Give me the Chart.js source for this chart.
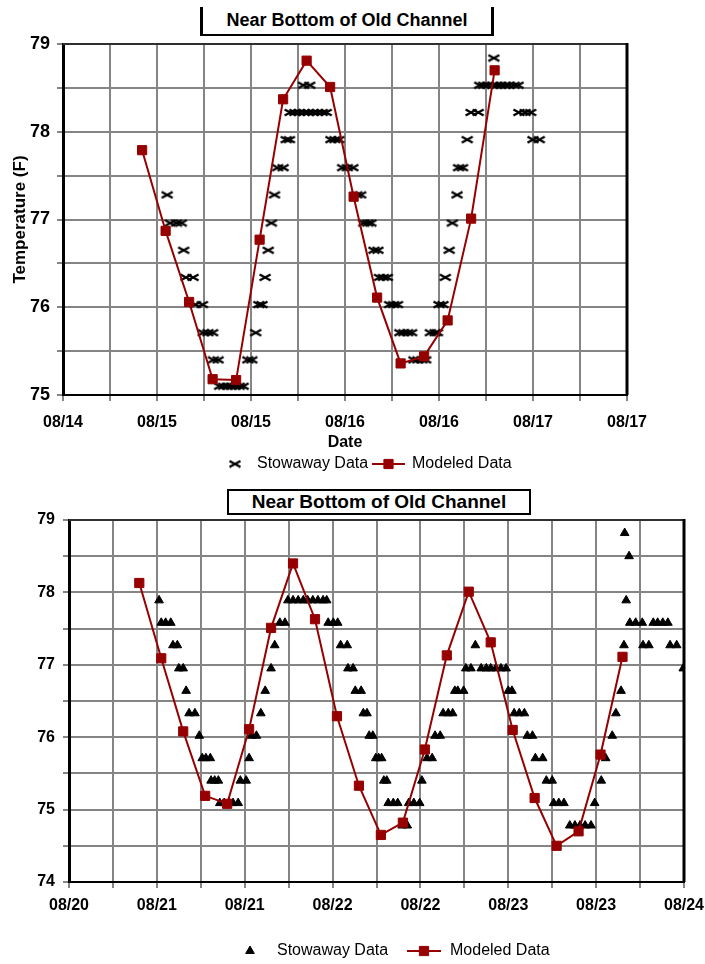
<!DOCTYPE html>
<html>
<head>
<meta charset="utf-8">
<title>Near Bottom of Old Channel</title>
<script src="https://cdn.jsdelivr.net/npm/chart.js@4.4.1/dist/chart.umd.min.js"></script>
<style>
    html, body { margin: 0; padding: 0; background: #fff; }
    body { width: 705px; height: 964px; position: relative; overflow: hidden;
           font-family: "Liberation Sans", Arial, sans-serif; }
    canvas { position: absolute; left: 0; }
    #topCanvas { top: 0; }
    #bottomCanvas { top: 480px; }
    .chart-title { position: absolute; box-sizing: border-box; background: #fff; color: #000;
                   font-weight: bold; text-align: center; white-space: nowrap; z-index: 2; }
    #topTitle { left: 200px; top: 7px; width: 294px; height: 29px; font-size: 18px; line-height: 27px;
                border: 3px solid #000; border-top: none; border-bottom-width: 2px; }
    #bottomTitle { left: 227px; top: 489px; width: 304px; height: 26px; font-size: 19px; line-height: 22px;
                   border: 2px solid #000; }
</style>
</head>
<body>
<div id="topTitle" class="chart-title">Near Bottom of Old Channel</div>
<div id="bottomTitle" class="chart-title">Near Bottom of Old Channel</div>
<canvas id="topCanvas" width="705" height="480"></canvas>
<canvas id="bottomCanvas" width="705" height="484"></canvas>

<script>
// ---- Top chart data (x = hours from the first axis label) ----
const topDateLabels = ['08/14', '08/15', '08/15', '08/16', '08/16', '08/17', '08/17'];
const topModeledHours = [10.1, 13.1, 16.1, 19.1, 22.1, 25.1, 28.1, 31.1, 34.1, 37.1, 40.1, 43.1, 46.1, 49.1, 52.1, 55.1];
const topModeledTemps = [77.79, 76.87, 76.06, 75.18, 75.17, 76.77, 78.37, 78.81, 78.51, 77.26, 76.11, 75.36, 75.44, 75.85, 77.01, 78.70];
// [hour, temperature]
const topStowaway = [
    [13.3, 77.28], [13.7, 76.96], [14.5, 76.96], [15.1, 76.96], [15.4, 76.65], [15.7, 76.34], [16.6, 76.34],
    [16.9, 76.03], [17.8, 76.03], [17.9, 75.71], [18.5, 75.71], [19.1, 75.71], [19.2, 75.40], [19.8, 75.40],
    [20.0, 75.10], [20.5, 75.10], [21.0, 75.10], [21.5, 75.10], [22.0, 75.10], [22.5, 75.10], [23.0, 75.10],
    [23.6, 75.40], [24.1, 75.40], [24.6, 75.71], [25.0, 76.03], [25.4, 76.03], [25.8, 76.34], [26.2, 76.65],
    [26.6, 76.96], [27.0, 77.28], [27.4, 77.59], [28.1, 77.59], [28.5, 77.91], [28.9, 77.91],
    [29.0, 78.22], [29.6, 78.22], [30.2, 78.22], [30.7, 78.53], [30.8, 78.22], [31.3, 78.22], [31.5, 78.53],
    [31.9, 78.22], [32.5, 78.22], [33.1, 78.22], [33.6, 78.22],
    [34.2, 77.91], [34.7, 77.91], [35.2, 77.91], [35.7, 77.59], [36.3, 77.59], [37.0, 77.59],
    [37.5, 77.28], [38.0, 77.28], [38.4, 76.96], [38.9, 76.96], [39.3, 76.96], [39.7, 76.65], [40.2, 76.65],
    [40.4, 76.34], [40.9, 76.34], [41.4, 76.34], [41.7, 76.03], [42.2, 76.03], [42.7, 76.03],
    [43.0, 75.71], [43.5, 75.71], [44.0, 75.71], [44.5, 75.71], [44.8, 75.40], [45.3, 75.40], [45.8, 75.40], [46.3, 75.40],
    [46.9, 75.71], [47.5, 75.71], [47.8, 75.71], [48.0, 76.03], [48.5, 76.03], [48.8, 76.34], [49.3, 76.65],
    [49.7, 76.96], [50.3, 77.28], [50.5, 77.59], [51.0, 77.59], [51.6, 77.91], [52.1, 78.22], [53.0, 78.22],
    [53.2, 78.53], [53.7, 78.53], [54.2, 78.53], [54.9, 78.53], [55.0, 78.84], [55.4, 78.53], [55.9, 78.53],
    [56.4, 78.53], [56.9, 78.53], [57.6, 78.53], [58.1, 78.53],
    [58.2, 78.22], [59.0, 78.22], [59.7, 78.22], [60.0, 77.91], [60.8, 77.91]
];

// ---- Bottom chart data ----
const bottomDateLabels = ['08/20', '08/21', '08/21', '08/22', '08/22', '08/23', '08/23', '08/24'];
const bottomModeledHours = [9.6, 12.6, 15.6, 18.6, 21.6, 24.6, 27.6, 30.6, 33.6, 36.6, 39.6, 42.6,
                            45.6, 48.6, 51.6, 54.6, 57.6, 60.6, 63.6, 66.6, 69.6, 72.6, 75.6];
const bottomModeledTemps = [78.13, 77.09, 76.08, 75.19, 75.08, 76.11, 77.51, 78.40, 77.63, 76.29, 75.33, 74.65,
                            74.82, 75.83, 77.13, 78.01, 77.31, 76.10, 75.16, 74.50, 74.70, 75.76, 77.11];
const bottomStowaway = [
    [12.3, 77.89], [12.6, 77.58], [13.2, 77.58], [13.9, 77.58], [14.2, 77.27], [14.8, 77.27], [15.0, 76.95],
    [15.6, 76.95], [16.0, 76.64], [16.4, 76.33], [17.2, 76.33], [17.8, 76.02], [18.2, 75.71], [18.7, 75.71],
    [19.3, 75.71], [19.4, 75.40], [19.9, 75.40], [20.4, 75.40], [20.6, 75.09], [21.2, 75.09], [21.9, 75.09],
    [22.4, 75.09], [23.1, 75.09], [23.4, 75.40], [24.2, 75.40], [24.6, 75.71], [24.9, 76.02], [25.6, 76.02],
    [26.2, 76.33], [26.8, 76.64], [27.6, 76.95], [28.1, 77.27], [28.8, 77.58], [29.5, 77.58],
    [29.9, 77.89], [30.6, 77.89], [31.3, 77.89], [32.0, 77.89], [32.6, 77.89], [33.3, 77.89], [34.0, 77.89],
    [34.7, 77.89], [35.2, 77.89], [35.4, 77.58], [36.1, 77.58], [36.7, 77.58], [37.1, 77.27], [38.0, 77.27],
    [38.1, 76.95], [38.8, 76.95], [39.1, 76.64], [39.9, 76.64], [40.2, 76.33], [40.7, 76.33], [41.0, 76.02],
    [41.5, 76.02], [41.9, 75.71], [42.3, 75.71], [42.7, 75.71], [43.0, 75.40], [43.4, 75.40], [43.6, 75.09],
    [44.3, 75.09], [44.9, 75.09], [45.5, 74.78], [46.2, 74.78], [46.4, 75.09], [47.1, 75.09], [47.9, 75.09],
    [48.2, 75.40], [48.9, 75.71], [49.6, 75.71], [50.0, 76.02], [50.7, 76.02], [51.1, 76.33], [51.8, 76.33],
    [52.4, 76.33], [52.7, 76.64], [53.1, 76.64], [53.9, 76.64], [54.2, 76.95], [54.9, 76.95], [55.5, 77.27],
    [56.3, 76.95], [57.0, 76.95], [57.6, 76.95], [58.3, 76.95], [59.0, 76.95], [59.7, 76.95], [60.0, 76.64],
    [60.5, 76.64], [60.8, 76.33], [61.5, 76.33], [62.2, 76.33], [62.6, 76.02], [63.3, 76.02], [63.7, 75.71],
    [64.7, 75.71], [65.2, 75.40], [66.0, 75.40], [66.2, 75.09], [66.9, 75.09], [67.6, 75.09], [68.4, 74.78],
    [69.1, 74.78], [69.8, 74.78], [70.5, 74.78], [71.3, 74.78], [71.8, 75.09], [72.7, 75.40], [73.3, 75.71],
    [74.2, 76.02], [74.7, 76.33], [75.4, 76.64], [75.8, 77.27], [75.9, 78.82], [76.1, 77.89], [76.5, 78.50],
    [76.6, 77.58], [77.4, 77.58], [78.3, 77.58], [78.4, 77.27], [79.2, 77.27], [79.8, 77.58], [80.4, 77.58],
    [81.1, 77.58], [81.8, 77.58], [82.1, 77.27], [83.0, 77.27], [83.9, 76.95]
];

(function() {
    'use strict';

    const FONT = '"Liberation Sans", Arial, sans-serif';
    const RED = '#960000';
    const GRID = '#858585';

    Chart.defaults.font.family = FONT;
    Chart.defaults.color = '#000';

    /**
     * Flattened "x" marker, like the Excel stowaway symbol
     */
    function makeCrossMarker() {
        const c = document.createElement('canvas');
        c.width = 14;
        c.height = 9;
        const g = c.getContext('2d');
        g.strokeStyle = '#000';
        g.lineWidth = 2.2;
        g.beginPath();
        g.moveTo(1.5, 1.5);
        g.lineTo(12.5, 7.5);
        g.moveTo(1.5, 7.5);
        g.lineTo(12.5, 1.5);
        g.stroke();
        return c;
    }

    // Top edge and heavy right edge of the plot frame
    const framePlugin = {
        id: 'frame',
        beforeDatasetsDraw(chart) {
            const { ctx, chartArea: a } = chart;
            ctx.save();
            ctx.strokeStyle = '#303030';
            ctx.lineWidth = 2;
            ctx.beginPath();
            ctx.moveTo(a.left, a.top);
            ctx.lineTo(a.right, a.top);
            ctx.stroke();
            ctx.strokeStyle = '#000';
            ctx.lineWidth = 3;
            ctx.beginPath();
            ctx.moveTo(a.right, a.top - 1);
            ctx.lineTo(a.right, a.bottom);
            ctx.stroke();
            ctx.restore();
        }
    };

    // Legend drawn below the axis, Excel style (line through square)
    const seriesKeyPlugin = {
        id: 'seriesKey',
        afterDraw(chart, args, opts) {
            const ctx = chart.ctx;
            const stow = chart.data.datasets[0];
            const mod = chart.data.datasets[1];
            const y = opts.y;
            ctx.save();
            ctx.fillStyle = '#000';
            ctx.strokeStyle = '#000';
            ctx.lineWidth = stow.pointBorderWidth;
            Chart.helpers.drawPoint(ctx, {
                pointStyle: stow.pointStyle, radius: stow.pointRadius,
                borderWidth: stow.pointBorderWidth, rotation: 0
            }, opts.stowMarkX, y);

            ctx.strokeStyle = RED;
            ctx.lineWidth = 2;
            ctx.beginPath();
            ctx.moveTo(opts.lineX1, y);
            ctx.lineTo(opts.lineX2, y);
            ctx.stroke();
            ctx.fillStyle = RED;
            ctx.lineWidth = 1;
            Chart.helpers.drawPoint(ctx, {
                pointStyle: 'rect', radius: mod.pointRadius, borderWidth: 1, rotation: 0
            }, (opts.lineX1 + opts.lineX2) / 2, y);

            ctx.fillStyle = '#000';
            ctx.font = '16px ' + FONT;
            ctx.textAlign = 'left';
            ctx.textBaseline = 'middle';
            ctx.fillText(stow.label, opts.stowTextX, y);
            ctx.fillText(mod.label, opts.modTextX, y);
            ctx.restore();
        }
    };

    function toPoints(xs, ys) {
        return xs.map((x, i) => ({ x: x, y: ys[i] }));
    }

    function buildChart(canvasId, cfg) {
        const ctx = document.getElementById(canvasId).getContext('2d');
        return new Chart(ctx, {
            type: 'line',
            data: {
                datasets: [
                    {
                        label: 'Stowaway Data',
                        data: cfg.stowaway.map(p => ({ x: p[0], y: p[1] })),
                        showLine: false,
                        pointStyle: cfg.stowStyle,
                        pointRadius: cfg.stowRadius,
                        pointBorderWidth: cfg.stowBorder,
                        pointBackgroundColor: '#000',
                        pointBorderColor: '#000',
                        order: 1
                    },
                    {
                        label: 'Modeled Data',
                        data: toPoints(cfg.modeledHours, cfg.modeledTemps),
                        borderColor: RED,
                        backgroundColor: RED,
                        borderWidth: 2,
                        pointStyle: 'rect',
                        pointRadius: 6.5,
                        pointBorderWidth: 1,
                        pointBackgroundColor: RED,
                        pointBorderColor: RED,
                        tension: 0,
                        order: 0
                    }
                ]
            },
            options: {
                responsive: false,
                animation: false,
                events: [],
                layout: { padding: cfg.padding },
                plugins: {
                    legend: { display: false },
                    tooltip: { enabled: false },
                    seriesKey: cfg.key
                },
                scales: {
                    x: {
                        type: 'linear',
                        min: 0,
                        max: cfg.xMax,
                        afterFit: s => {
                            s.height = cfg.xHeight;
                            s.paddingLeft = 0;
                            s.paddingRight = 0;
                        },
                        grid: { color: GRID, lineWidth: 2, tickLength: 6, tickColor: GRID },
                        border: { color: '#000', width: 2 },
                        ticks: {
                            stepSize: 6,
                            maxTicksLimit: 40,
                            autoSkip: false,
                            maxRotation: 0,
                            padding: cfg.xTickPad,
                            font: { size: 16, weight: 'bold' },
                            callback: v => (v % 12 === 0 ? cfg.dateLabels[v / 12] : '')
                        },
                        title: cfg.xTitle
                    },
                    y: {
                        min: cfg.yMin,
                        max: 79,
                        afterFit: s => {
                            s.width = cfg.yWidth;
                            s.paddingTop = 0;
                            s.paddingBottom = 0;
                        },
                        grid: { color: GRID, lineWidth: 2, tickLength: 6, tickColor: GRID },
                        border: { color: '#000', width: 3 },
                        ticks: {
                            stepSize: 0.5,
                            maxTicksLimit: 40,
                            padding: cfg.yTickPad,
                            font: { size: cfg.yFont, weight: 'bold' },
                            callback: v => (Number.isInteger(v) ? String(v) : '')
                        },
                        title: cfg.yTitle
                    }
                }
            },
            plugins: [framePlugin, seriesKeyPlugin]
        });
    }

    buildChart('topCanvas', {
        stowaway: topStowaway,
        stowStyle: makeCrossMarker(),
        stowRadius: 6,
        stowBorder: 2,
        modeledHours: topModeledHours,
        modeledTemps: topModeledTemps,
        dateLabels: topDateLabels,
        xMax: 72,
        yMin: 75,
        padding: { top: 44, right: 78, bottom: 25, left: 0 },
        xHeight: 60,
        yWidth: 63,
        xTickPad: 12,
        yTickPad: 7,
        yFont: 18,
        xTitle: { display: true, text: 'Date', font: { size: 16, weight: 'bold' }, padding: { top: 0, bottom: 3 } },
        yTitle: { display: true, text: 'Temperature (F)', font: { size: 17, weight: 'bold' }, padding: { top: 10, bottom: 0 } },
        key: { y: 464, stowMarkX: 235, stowTextX: 257, lineX1: 372, lineX2: 405, modTextX: 412 }
    });

    buildChart('bottomCanvas', {
        stowaway: bottomStowaway,
        stowStyle: 'triangle',
        stowRadius: 5,
        stowBorder: 1,
        modeledHours: bottomModeledHours,
        modeledTemps: bottomModeledTemps,
        dateLabels: bottomDateLabels,
        xMax: 84,
        yMin: 74,
        padding: { top: 40, right: 21, bottom: 52, left: 0 },
        xHeight: 30,
        yWidth: 69,
        xTickPad: 8,
        yTickPad: 8,
        yFont: 16,
        xTitle: { display: false },
        yTitle: { display: false },
        key: { y: 471, stowMarkX: 250, stowTextX: 277, lineX1: 407, lineX2: 441, modTextX: 450 }
    });
})();
</script>
</body>
</html>
